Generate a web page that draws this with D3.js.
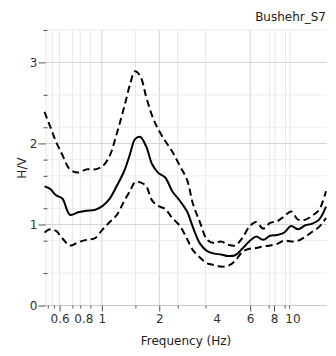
<!DOCTYPE html>
<html><head><meta charset="utf-8">
<script src="https://cdn.jsdelivr.net/npm/d3@7"></script>
<style>
html,body{margin:0;padding:0;background:#fff;}
svg text{font-family:"DejaVu Sans",sans-serif;}
</style></head>
<body><svg id="c" width="336" height="356"></svg>
<script>
// ---- data ----
const freq = [0.50,0.535,0.575,0.62,0.68,0.75,0.83,0.92,1.01,1.10,1.20,1.31,1.41,1.49,1.59,1.71,1.83,1.97,2.15,2.34,2.57,2.80,3.01,3.28,3.57,3.88,4.22,4.60,5.00,5.45,5.93,6.45,7.02,7.64,8.31,9.05,9.84,10.7,11.7,12.7,13.8,15.0];
const hvMean = [1.47,1.44,1.36,1.32,1.12,1.15,1.17,1.18,1.23,1.32,1.48,1.66,1.88,2.05,2.08,1.96,1.75,1.64,1.58,1.41,1.29,1.16,0.96,0.76,0.67,0.64,0.63,0.61,0.62,0.70,0.79,0.85,0.81,0.86,0.87,0.90,0.98,0.94,0.99,1.01,1.06,1.22];
const hvUpper = [2.39,2.21,2.02,1.86,1.68,1.64,1.68,1.68,1.72,1.85,2.13,2.45,2.74,2.89,2.83,2.57,2.35,2.18,2.03,1.90,1.72,1.55,1.25,1.02,0.81,0.77,0.79,0.75,0.74,0.83,0.97,1.03,0.95,1.02,1.04,1.10,1.16,1.06,1.06,1.11,1.18,1.41];
const hvLower = [0.90,0.94,0.92,0.83,0.74,0.78,0.81,0.83,0.94,1.03,1.12,1.29,1.42,1.52,1.52,1.47,1.30,1.23,1.19,1.08,0.98,0.82,0.68,0.59,0.52,0.50,0.48,0.49,0.55,0.66,0.70,0.71,0.73,0.74,0.76,0.80,0.79,0.80,0.85,0.91,0.97,1.08];
const xTickLabels = [0.6,0.8,1,2,4,6,8,10];
const xMajorTicks = [0.6,1,2,6,8];
const xMinorTicks = [0.52,0.56,0.7,0.77,0.87,1.5,2.5,3.5,7.5,9.1,9.6];
const xGrid = [0.51,0.55,0.6,0.7,0.77,0.87,1,1.5,2,2.5,3.5,6,7.6,8.1,9.2,9.7];
const xGridMajor = [1,2,6];
const yTickLabels = [0,1,2,3];
const yMinorTicks = [0.4,0.8,1.2,1.6,1.8,2.2,2.6,3.4];
const title = "Bushehr_S7";
const xTitle = "Frequency (Hz)";
const yTitle = "H/V";

// ---- chart ----
const svg = d3.select("#c");
const x = d3.scaleLog().domain([0.5,15]).range([44.5,326]);
const y = d3.scaleLinear().domain([0,3.4]).range([305.5,30]);
const L = 44.5, R = 327;

const g = svg.append("g");
// vertical grid
g.selectAll(".vg").data(xGrid).join("line")
  .attr("x1",d=>x(d)).attr("x2",d=>x(d)).attr("y1",y(3.4)).attr("y2",y(0))
  .attr("stroke",d=>xGridMajor.includes(d)?"#d2d2d2":"#e8e8e8").attr("stroke-width",1);
// horizontal grid
g.selectAll(".hg").data(yMinorTicks.concat(yTickLabels.slice(1))).join("line")
  .attr("x1",L).attr("x2",R).attr("y1",d=>y(d)).attr("y2",d=>y(d))
  .attr("stroke",d=>Number.isInteger(d)?"#d4d4d4":"#ececec").attr("stroke-width",1);
// bottom line
g.append("line").attr("x1",L).attr("x2",R).attr("y1",y(0)).attr("y2",y(0)).attr("stroke","#c8c8c8");

// y axis
const yAx = svg.append("g").attr("transform",`translate(${L+1},0)`)
  .call(d3.axisLeft(y).tickValues(yTickLabels).tickSize(7).tickPadding(1).tickFormat(d3.format("d")));
yAx.select(".domain").remove();
yAx.selectAll("line").attr("stroke","#555");
yAx.selectAll("text").attr("font-size",12).attr("fill","#333").attr("font-family","DejaVu Sans");
const yMin = svg.append("g").attr("transform",`translate(${L+3},0)`)
  .call(d3.axisLeft(y).tickValues(yMinorTicks).tickSize(4).tickFormat(""));
yMin.select(".domain").remove();
yMin.selectAll("line").attr("stroke","#555");

// x axis
const xAx = svg.append("g").attr("transform",`translate(0,${y(0)})`)
  .call(d3.axisBottom(x).tickValues(xTickLabels).tickSize(0).tickPadding(9).tickFormat(d=>String(d)));
xAx.select(".domain").remove();
xAx.selectAll("text").attr("font-size",12).attr("fill","#333").attr("font-family","DejaVu Sans");
const xMaj = svg.append("g").attr("transform",`translate(0,${y(0)})`)
  .call(d3.axisBottom(x).tickValues(xMajorTicks).tickSize(6).tickFormat(""));
xMaj.select(".domain").remove(); xMaj.selectAll("line").attr("stroke","#555");
const xMin = svg.append("g").attr("transform",`translate(0,${y(0)})`)
  .call(d3.axisBottom(x).tickValues(xMinorTicks).tickSize(3).tickFormat(""));
xMin.select(".domain").remove(); xMin.selectAll("line").attr("stroke","#555");

// curves
const line = d3.line().x(d=>x(d[0])).y(d=>y(d[1])).curve(d3.curveCatmullRom.alpha(0.5));
const series = [
  {v:hvUpper, dash:"7,4"},
  {v:hvLower, dash:"7,4"},
  {v:hvMean, dash:null}
];
svg.selectAll(".crv").data(series).join("path")
  .attr("d",s=>line(freq.map((f,i)=>[f,s.v[i]])))
  .attr("fill","none").attr("stroke","#000").attr("stroke-width",2)
  .attr("stroke-dasharray",s=>s.dash);

// texts
svg.append("text").attr("x",326).attr("y",21).attr("text-anchor","end")
  .attr("font-size",12).attr("fill","#222").text(title);
svg.append("text").attr("x",186).attr("y",345).attr("text-anchor","middle")
  .attr("font-size",12).attr("fill","#222").text(xTitle);
svg.append("text").attr("transform","translate(22,168) rotate(-90)").attr("text-anchor","middle")
  .attr("dy","0.35em").attr("font-size",12).attr("fill","#222").text(yTitle);
</script></body></html>
